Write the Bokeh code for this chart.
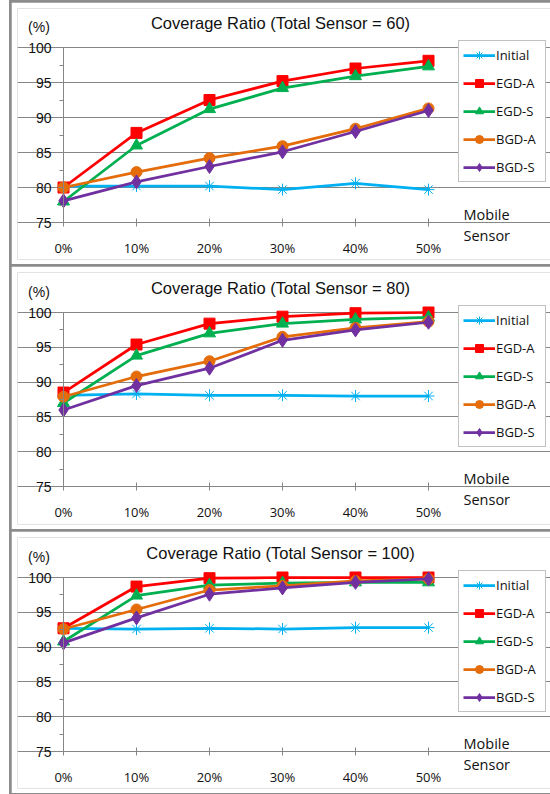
from bokeh.plotting import figure
from bokeh.layouts import column
from bokeh.models import (Range1d, FixedTicker, Label, Legend, LegendItem,
                          LinearAxis, Grid)
from bokeh.embed import file_html
from bokeh.resources import INLINE

# ---- data ----
mobile_pct = [0, 10, 20, 30, 40, 50]
x_labels = ["0%", "10%", "20%", "30%", "40%", "50%"]
y_ticks = [75, 80, 85, 90, 95, 100]
y_minor = [77.5, 82.5, 87.5, 92.5, 97.5]
series_names = ["Initial", "EGD-A", "EGD-S", "BGD-A", "BGD-S"]
totals = [60, 80, 100]

initial_60 = [80.2, 80.2, 80.2, 79.7, 80.6, 79.7]
egd_a_60 = [80.0, 87.8, 92.5, 95.2, 97.0, 98.1]
egd_s_60 = [78.0, 86.0, 91.2, 94.2, 95.9, 97.3]
bgd_a_60 = [80.0, 82.2, 84.2, 85.9, 88.4, 91.3]
bgd_s_60 = [78.1, 80.8, 83.0, 85.1, 88.0, 91.0]

initial_80 = [88.1, 88.3, 88.1, 88.1, 88.0, 88.0]
egd_a_80 = [88.5, 95.4, 98.4, 99.4, 99.9, 100.0]
egd_s_80 = [87.0, 93.8, 97.0, 98.4, 99.0, 99.3]
bgd_a_80 = [87.9, 90.8, 93.0, 96.5, 97.8, 98.7]
bgd_s_80 = [86.0, 89.5, 92.0, 96.0, 97.5, 98.6]

initial_100 = [92.7, 92.6, 92.7, 92.6, 92.8, 92.8]
egd_a_100 = [92.7, 98.7, 99.9, 100.0, 100.0, 100.0]
egd_s_100 = [90.8, 97.4, 98.9, 99.2, 99.3, 99.3]
bgd_a_100 = [92.6, 95.4, 98.2, 98.8, 99.5, 99.8]
bgd_s_100 = [90.6, 94.2, 97.6, 98.5, 99.3, 99.8]

panel_data = [
    [initial_60, egd_a_60, egd_s_60, bgd_a_60, bgd_s_60],
    [initial_80, egd_a_80, egd_s_80, bgd_a_80, bgd_s_80],
    [initial_100, egd_a_100, egd_s_100, bgd_a_100, bgd_s_100],
]

# ---- styles / layout (pixels, figure-local) ----
colors = ["#00B0F0", "#FF0000", "#00B050", "#E46C0A", "#7030A0"]
markers = ["asterisk", "square", "triangle", "circle", "diamond"]
msizes = [12, 11, 12, 11, 14]
AXIS = "#868686"
TXT = "#111111"

FIG_W = 539
B_LEFT, B_RIGHT, B_TOP, B_BOTTOM = 6, 0, 6, 5
X0_PX, X50_PX = 52.0, 417.0
PPX = (X50_PX - X0_PX) / 50.0


def make_panel(total, data, fig_h, top100, bot75, margin):
    ppy = (bot75 - top100) / 25.0

    def X(px):
        return (px - X0_PX) / PPX

    def Y(py):
        return 100.0 - (py - top100) / ppy

    frame_bottom = fig_h - B_BOTTOM
    p = figure(width=FIG_W, height=fig_h, output_backend="svg", toolbar_location=None,
               x_range=Range1d(X(B_LEFT), X(FIG_W - B_RIGHT)),
               y_range=Range1d(Y(frame_bottom), Y(B_TOP)),
               x_axis_location=None, y_axis_location=None,
               min_border_left=B_LEFT, min_border_right=B_RIGHT,
               min_border_top=B_TOP, min_border_bottom=B_BOTTOM,
               margin=margin)
    p.outline_line_color = None
    p.background_fill_color = "white"
    p.border_fill_color = "white"
    p.center = [c for c in p.center if not isinstance(c, Grid)]

    # horizontal gridlines (the one at 75 is the category axis line)
    p.add_layout(Grid(dimension=1, ticker=FixedTicker(ticks=y_ticks), bounds=(0, 50),
                      grid_line_color=AXIS, grid_line_width=1))

    # value axis: line + tick marks at x = 0
    yt = LinearAxis(fixed_location=0, bounds=(75, 100),
                    ticker=FixedTicker(ticks=y_ticks, minor_ticks=y_minor),
                    axis_line_color=AXIS, major_tick_line_color=AXIS, minor_tick_line_color=AXIS,
                    major_tick_in=5, major_tick_out=0, minor_tick_in=4, minor_tick_out=0,
                    major_label_text_color=None)
    p.add_layout(yt, "right")
    # value axis labels (right edge 20px right of the axis anchor)
    yl = LinearAxis(fixed_location=X(20), ticker=FixedTicker(ticks=y_ticks, minor_ticks=[]),
                    axis_line_color=None, major_tick_line_color=None, minor_tick_line_color=None,
                    major_tick_in=0, major_tick_out=0, minor_tick_in=0, minor_tick_out=0,
                    major_label_standoff=-20, major_label_text_font="Liberation Sans",
                    major_label_text_font_size="14px", major_label_text_color=TXT)
    p.add_layout(yl, "left")
    # category axis tick marks at y = 75
    xt = LinearAxis(fixed_location=75, bounds=(0, 50),
                    ticker=FixedTicker(ticks=mobile_pct, minor_ticks=[]),
                    axis_line_color=AXIS, major_tick_line_color=AXIS, minor_tick_line_color=None,
                    major_tick_in=4, major_tick_out=4, major_label_text_color=None)
    p.add_layout(xt, "above")
    # category axis labels (top of text 14px above the axis anchor)
    label_top = bot75 + 16.7
    xl = LinearAxis(fixed_location=Y(label_top + 14), ticker=FixedTicker(ticks=mobile_pct, minor_ticks=[]),
                    major_label_overrides={m: lab for m, lab in zip(mobile_pct, x_labels)},
                    axis_line_color=None, major_tick_line_color=None, minor_tick_line_color=None,
                    major_tick_in=0, major_tick_out=0, minor_tick_in=0, minor_tick_out=0,
                    major_label_standoff=-14, major_label_text_font="Open Sans",
                    major_label_text_font_size="13px", major_label_text_color=TXT)
    p.add_layout(xl, "below")

    items = []
    for name, vals, c, mk, ms in zip(series_names, data, colors, markers, msizes):
        lr = p.line(mobile_pct, vals, line_color=c, line_width=2.75)
        if mk == "asterisk":
            sr = p.scatter(mobile_pct, vals, marker=mk, size=ms, line_color=c, line_width=1)
        else:
            sr = p.scatter(mobile_pct, vals, marker=mk, size=ms, fill_color=c, line_color=c, line_width=1)
        items.append(LegendItem(label=name, renderers=[lr, sr]))

    leg_left_px = 447.0   # figure-local
    leg_bottom_px = top100 - 5 + 140
    legend = Legend(items=items,
                    location=(leg_left_px - B_LEFT, frame_bottom - leg_bottom_px),
                    border_line_color=AXIS, border_line_width=1,
                    background_fill_color="white", background_fill_alpha=1,
                    padding=4, spacing=8, glyph_height=20, glyph_width=32,
                    label_height=20, label_width=45, label_standoff=1, margin=0,
                    label_text_font="Open Sans", label_text_font_size="13px",
                    label_text_color=TXT)
    p.add_layout(legend)

    p.add_layout(Label(x=X(269), y=Y(top100 - 24.5), text=f"Coverage Ratio (Total Sensor = {total})",
                       text_font="Liberation Sans", text_font_size="16.5px", text_color=TXT,
                       text_align="center", text_baseline="middle"))
    p.add_layout(Label(x=X(27.5), y=Y(top100 - 21), text="(%)",
                       text_font="Liberation Sans", text_font_size="14px", text_color=TXT,
                       text_align="center", text_baseline="middle"))
    p.add_layout(Label(x=X(452), y=Y(bot75 - 8.5), text="Mobile",
                       text_font="Open Sans", text_font_size="14.5px", text_color=TXT,
                       text_align="left", text_baseline="middle"))
    p.add_layout(Label(x=X(452), y=Y(bot75 + 12.5), text="Sensor",
                       text_font="Open Sans", text_font_size="14.5px", text_color=TXT,
                       text_align="left", text_baseline="middle"))
    return p


p1 = make_panel(totals[0], panel_data[0], 262, 45, 220, (2, 0, 0, 2))
p2 = make_panel(totals[1], panel_data[1], 263, 46, 220, (0, 0, 0, 2))
p3 = make_panel(totals[2], panel_data[2], 262, 46, 220, (0, 0, 1, 2))

layout = column(p1, p2, p3, spacing=2, margin=(0, 0, 0, 9),
                styles={"background-color": "#8c8c8c"})

open("out.html", "w").write(file_html(layout, INLINE))
